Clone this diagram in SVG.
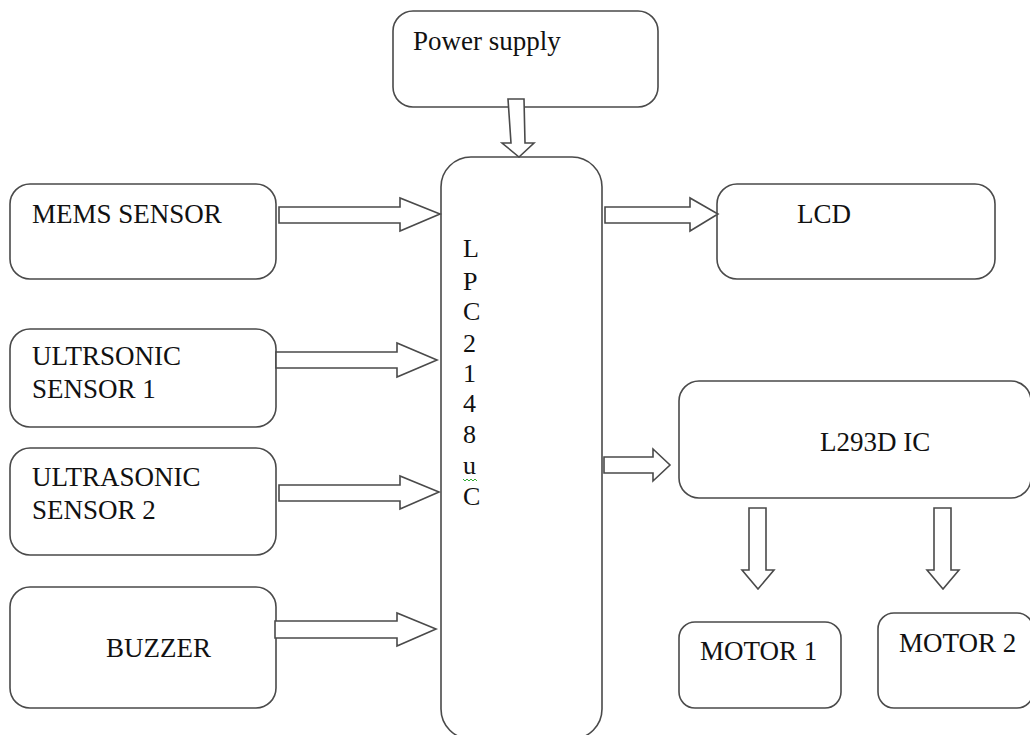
<svg xmlns="http://www.w3.org/2000/svg" width="1030" height="735" viewBox="0 0 1030 735">
<style>
.box{fill:#fff;stroke:#4a4a4a;stroke-width:1.6}
.arr{fill:#fff;stroke:#4a4a4a;stroke-width:1.6;stroke-linejoin:miter}
.t{font-family:"Liberation Serif","Times New Roman",serif;font-size:27px;fill:#111}
.v{font-size:26px}
</style>
<rect width="1030" height="735" fill="#fff"/>
<g id="power-supply">
<rect class="box" x="393" y="11" width="265" height="96" rx="20"/>
<text class="t" x="413" y="50">Power supply</text>
</g>
<g id="mems-sensor">
<rect class="box" x="10" y="184" width="266" height="95" rx="20"/>
<text class="t" x="32" y="223">MEMS SENSOR</text>
</g>
<g id="ultrasonic-sensor-1">
<rect class="box" x="10" y="329" width="266" height="98" rx="20"/>
<text class="t" x="32" y="365">ULTRSONIC</text>
<text class="t" x="32" y="398">SENSOR 1</text>
</g>
<g id="ultrasonic-sensor-2">
<rect class="box" x="10" y="448" width="266" height="107" rx="20"/>
<text class="t" x="32" y="486">ULTRASONIC</text>
<text class="t" x="32" y="519">SENSOR 2</text>
</g>
<g id="buzzer">
<rect class="box" x="10" y="587" width="266" height="121" rx="20"/>
<text class="t" x="106" y="657">BUZZER</text>
</g>
<g id="lpc2148">
<rect class="box" x="441" y="157" width="161" height="582" rx="30"/>
<text class="t v" x="463" y="257">L</text>
<text class="t v" x="463" y="290">P</text>
<text class="t v" x="463" y="320">C</text>
<text class="t v" x="463" y="352">2</text>
<text class="t v" x="463" y="382">1</text>
<text class="t v" x="463" y="412">4</text>
<text class="t v" x="463" y="443">8</text>
<text class="t v" x="463" y="474">u</text>
<path d="M463,479 l2,2 2,-2 2,2 2,-2 2,2 2,-2 2,2" fill="none" stroke="#3a3" stroke-width="1"/>
<text class="t v" x="463" y="505">C</text>
</g>
<g id="lcd">
<rect class="box" x="717" y="184" width="278" height="95" rx="20"/>
<text class="t" x="797" y="223">LCD</text>
</g>
<g id="l293d">
<rect class="box" x="679" y="381" width="352" height="117" rx="20"/>
<text class="t" x="820" y="451">L293D IC</text>
</g>
<g id="motor-1">
<rect class="box" x="679" y="622" width="162" height="86" rx="16"/>
<text class="t" x="700" y="660">MOTOR 1</text>
</g>
<g id="motor-2">
<rect class="box" x="878" y="613" width="155" height="95" rx="16"/>
<text class="t" x="899" y="652">MOTOR 2</text>
</g>
<g id="connectors">
<polygon class="arr" points="508,99 524,99 525,143 534,143 519,157 502,143 511,143"/>
<polygon class="arr" points="279,207 400,207 400,198 440,214 400,231 400,223 279,223"/>
<polygon class="arr" points="276,352 397,352 397,343 437,360 397,377 397,368 276,368"/>
<polygon class="arr" points="279,485 400,485 400,476 439,492 400,509 400,501 279,501"/>
<polygon class="arr" points="275,621 397,621 397,613 436,629 397,646 397,638 275,638"/>
<polygon class="arr" points="605,207 690,207 690,198 718,214 690,231 690,223 605,223"/>
<polygon class="arr" points="604,457 653,457 653,449 670,465 653,481 653,473 604,473"/>
<polygon class="arr" points="749,508 766,508 766,570 774,570 758,589 742,570 749,570"/>
<polygon class="arr" points="934,508 951,508 951,570 959,570 943,589 927,570 934,570"/>
</g>
</svg>
